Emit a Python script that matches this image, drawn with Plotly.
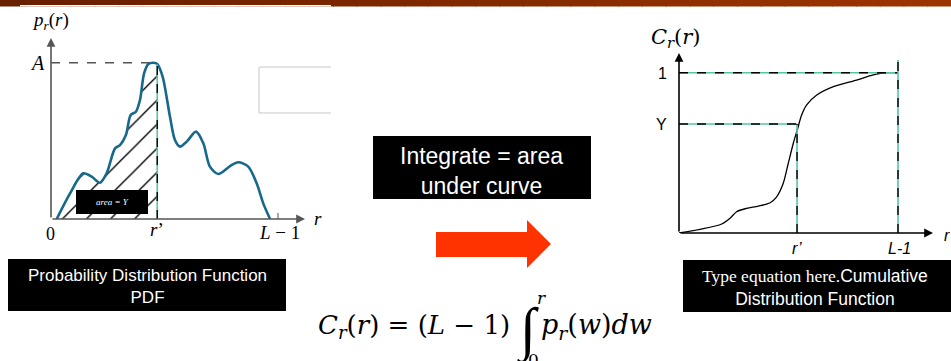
import plotly.graph_objects as go

W, H = 951, 361

# ---------------- data ----------------
# PDF curve (r normalised so that L-1 = 1, p normalised so that A = 1)
pdf_r = [0.025, 0.084, 0.142, 0.179, 0.216, 0.245, 0.282, 0.304, 0.330, 0.351, 0.374,
         0.392, 0.410, 0.429, 0.451, 0.468, 0.492, 0.524, 0.546, 0.568, 0.598, 0.639,
         0.671, 0.700, 0.737, 0.789, 0.825, 0.869, 0.906, 0.935, 0.965]
pdf_p = [0.0, 0.164, 0.292, 0.271, 0.232, 0.292, 0.452, 0.473, 0.537, 0.665, 0.686,
         0.761, 0.932, 0.992, 1.0, 0.992, 0.910, 0.655, 0.505, 0.463, 0.495, 0.559,
         0.484, 0.335, 0.288, 0.339, 0.363, 0.335, 0.228, 0.100, 0.0]
pdf_r_prime = 0.468
pdf_peak_r = 0.451

# CDF curve
cdf_r = [0.0, 0.096, 0.195, 0.233, 0.263, 0.309, 0.362, 0.416, 0.446, 0.476, 0.499,
         0.522, 0.540, 0.560, 0.583, 0.629, 0.705, 0.811, 0.887, 0.948, 1.0]
cdf_c = [0.0, 0.023, 0.056, 0.092, 0.133, 0.154, 0.168, 0.189, 0.226, 0.310, 0.435,
         0.560, 0.643, 0.736, 0.799, 0.861, 0.913, 0.954, 0.986, 1.0, 1.0]
cdf_r_prime = 0.539
cdf_Y = 0.680

# --------------- helpers ---------------
def X(px):
    return px / W

def Y(py):
    return 1 - py / H

SERIF = "Liberation Serif"
MATH = "DejaVu Serif"
SANS = "Liberation Sans"

fig = go.Figure()

# hatched area under PDF up to r'
hr = [r for r in pdf_r if r <= pdf_r_prime]
hp = pdf_p[:len(hr)]
fig.add_trace(go.Scatter(x=hr, y=hp, mode="lines", line=dict(width=0, shape="spline"),
                         fill="tozeroy", fillcolor="white",
                         fillpattern=dict(shape="/", fgcolor="black", bgcolor="white",
                                          fgopacity=1, size=17, solidity=0.08),
                         xaxis="x", yaxis="y", hoverinfo="skip", showlegend=False))
# PDF curve
fig.add_trace(go.Scatter(x=pdf_r, y=pdf_p, mode="lines",
                         line=dict(color="#17698c", width=2.6, shape="spline", smoothing=0.8),
                         xaxis="x", yaxis="y", hoverinfo="skip", showlegend=False))
# CDF curve
fig.add_trace(go.Scatter(x=cdf_r, y=cdf_c, mode="lines",
                         line=dict(color="black", width=1.3, shape="spline", smoothing=0.8),
                         xaxis="x2", yaxis="y2", hoverinfo="skip", showlegend=False))

ax_common = dict(visible=False, fixedrange=True)
fig.update_layout(
    width=W, height=H, margin=dict(l=0, r=0, t=0, b=0),
    paper_bgcolor="white", plot_bgcolor="rgba(0,0,0,0)",
    showlegend=False,
    xaxis=dict(domain=[X(51), X(305)], range=[0, (305 - 51) / 227], **ax_common),
    yaxis=dict(domain=[Y(219), Y(38)], range=[0, (219 - 38) / 156.3], **ax_common),
    xaxis2=dict(domain=[X(679), X(933)], range=[0, (933 - 679) / 219], anchor="y2", **ax_common),
    yaxis2=dict(domain=[Y(233), Y(53)], range=[0, (233 - 53) / 160.3], anchor="x2", **ax_common),
)

shapes = []
# top gradient bar
n = 40
c0, c1 = (104, 31, 0), (157, 53, 0)
for i in range(n):
    t = i / (n - 1)
    col = "rgb(%d,%d,%d)" % tuple(int(a + (b - a) * t) for a, b in zip(c0, c1))
    shapes.append(dict(type="rect", xref="paper", yref="paper",
                       x0=i / n, x1=(i + 1) / n + 0.001, y0=Y(6.5), y1=1,
                       fillcolor=col, line=dict(width=0), layer="below"))
shapes.append(dict(type="rect", xref="paper", yref="paper", x0=X(20), x1=X(331),
                   y0=Y(6.6), y1=Y(5), fillcolor="white", line=dict(width=0), layer="below"))

# empty grey-bordered box in PDF picture
shapes.append(dict(type="path", xref="paper", yref="paper",
                   path="M %f,%f L %f,%f L %f,%f L %f,%f" % (X(331), Y(67), X(259), Y(67),
                                                             X(259), Y(113), X(331), Y(113)),
                   line=dict(color="#c8c8c8", width=1)))

def dashed(xref, yref, x0, y0, x1, y1, teal=True, color="black"):
    if teal:
        shapes.append(dict(type="line", xref=xref, yref=yref, x0=x0, y0=y0, x1=x1, y1=y1,
                           line=dict(color="#54c4a8", width=1.6)))
    shapes.append(dict(type="line", xref=xref, yref=yref, x0=x0, y0=y0, x1=x1, y1=y1,
                       line=dict(color=color, width=1.4, dash="dash")))

# PDF dashed guides
dashed("x", "y", 0, 1, pdf_peak_r, 1, teal=False, color="#555555")
dashed("x", "y", pdf_r_prime, 0, pdf_r_prime, 0.99, teal=True)
# L-1 tick on PDF axis
shapes.append(dict(type="line", xref="paper", yref="paper", x0=X(278), x1=X(278),
                   y0=Y(219), y1=Y(213), line=dict(color="#555555", width=1)))

# CDF dashed guides
dashed("x2", "y2", 0, 1, 1, 1)
dashed("x2", "y2", 1, 0, 1, 1.08)
dashed("x2", "y2", 0, cdf_Y, cdf_r_prime, cdf_Y)
dashed("x2", "y2", cdf_r_prime, 0, cdf_r_prime, cdf_Y)

# black text boxes
def box(x0, y0, x1, y1):
    shapes.append(dict(type="rect", xref="paper", yref="paper", x0=X(x0), x1=X(x1),
                       y0=Y(y1), y1=Y(y0), fillcolor="black", line=dict(width=0)))

box(76, 190, 148, 214)      # area = Y
box(8, 259, 286, 311)       # PDF caption
box(683, 260, 951, 312)     # CDF caption
box(373, 136, 591, 199)     # Integrate

# red arrow
pts = [(436, 232), (527, 232), (527, 220), (551, 244), (527, 268), (527, 257), (436, 257)]
path = "M " + " L ".join("%f,%f" % (X(a), Y(b)) for a, b in pts) + " Z"
shapes.append(dict(type="path", xref="paper", yref="paper", path=path,
                   fillcolor="#ff3300", line=dict(width=0)))

fig.update_layout(shapes=shapes)

ann = []

def text(t, px, py, size, family=SERIF, color="black", xanchor="center", yanchor="middle"):
    ann.append(dict(text=t, x=X(px), y=Y(py), xref="paper", yref="paper", showarrow=False,
                    xanchor=xanchor, yanchor=yanchor,
                    font=dict(size=size, family=family, color=color)))

def arrow(x_end, y_end, dx, dy, color):
    ann.append(dict(text="", x=X(x_end), y=Y(y_end), xref="paper", yref="paper",
                    ax=dx, ay=dy, showarrow=True, arrowhead=2, arrowsize=1.1,
                    arrowwidth=1.6, arrowcolor=color))

# axes with arrows
arrow(305, 219, -254, 0, "#555555")
arrow(51, 38, 0, 181, "#555555")
arrow(933, 233, -254, 0, "black")
arrow(679, 53, 0, 180, "black")

# PDF labels
text("<i>p</i><sub><i>r</i></sub>(<i>r</i>)", 50, 21, 19)
text("<i>A</i>", 37, 63, 20)
text("0", 50, 234, 18)
text("<i>r</i>’", 157, 229, 19)
text("<i>L</i> − 1", 279, 232, 19)
text("<i>r</i>", 318, 218, 19)
text("<i>area = Y</i>", 112, 202, 9, color="white")

# CDF labels
text("<i>C</i><sub><i>r</i></sub>(<i>r</i>)", 676, 38, 21, family=MATH)
text("1", 662, 73, 16, family=SANS)
text("Y", 661, 124, 16, family=SANS)
text("<i>r’</i>", 797, 248, 16, family=SANS)
text("<i>L-1</i>", 899, 248, 16, family=SANS)
text("<i>r</i>", 947, 235, 16, family=SANS)

# captions
text("Probability Distribution Function<br>PDF", 147, 286, 17, family=SANS, color="white")
text("<span style='font-family:Liberation Serif'>Type equation here.</span>Cumulative"
     "<br>Distribution Function<br>CDF", 815, 299, 17.5, family=SANS, color="white")
text("Integrate = area<br>under curve", 482, 171, 23, family=SANS, color="white")

# formula
text("<i>C</i><sub><i>r</i></sub>(<i>r</i>) = (<i>L</i> − 1)", 512, 326, 26,
     family=MATH, xanchor="right")
text("∫", 527, 330, 58, family=SERIF)
text("<i>r</i>", 541, 298, 17, family=MATH)
text("0", 533, 360, 17, family=MATH)
text("<i>p</i><sub><i>r</i></sub>(<i>w</i>)<i>dw</i>", 539, 326, 27, family=MATH,
     xanchor="left")

fig.update_layout(annotations=ann)

fig.write_html("out.html", config={"displayModeBar": False},
               post_script="document.body.style.margin='0';")
